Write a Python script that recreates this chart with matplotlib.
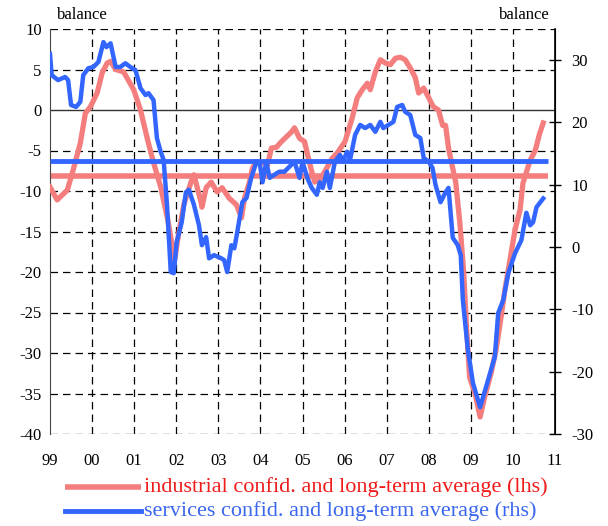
import matplotlib
matplotlib.use("Agg")
import matplotlib.pyplot as plt
from matplotlib.lines import Line2D

# industrial confidence (lhs), balance
ind_t = [1999.00, 1999.17, 1999.41, 1999.53, 1999.72, 1999.84, 1999.96, 2000.12, 2000.24, 2000.36,
         2000.44, 2000.56, 2000.75, 2000.99, 2001.15, 2001.32, 2001.46, 2001.63, 2001.80, 2001.88,
         2001.96, 2002.05, 2002.18, 2002.35, 2002.42, 2002.59, 2002.61, 2002.71, 2002.83, 2002.97,
         2003.09, 2003.26, 2003.43, 2003.55, 2003.62, 2003.74, 2003.81, 2003.90, 2004.05, 2004.17,
         2004.26, 2004.38, 2004.50, 2004.62, 2004.74, 2004.81, 2004.93, 2005.05, 2005.12, 2005.22,
         2005.29, 2005.41, 2005.53, 2005.70, 2005.84, 2006.01, 2006.18, 2006.30, 2006.42, 2006.54,
         2006.61, 2006.73, 2006.85, 2006.97, 2007.09, 2007.21, 2007.33, 2007.44, 2007.56, 2007.68,
         2007.76, 2007.88, 2008.00, 2008.11, 2008.23, 2008.33, 2008.40, 2008.47, 2008.57, 2008.64,
         2008.74, 2008.83, 2008.90, 2008.97, 2009.10, 2009.22, 2009.33, 2009.48, 2009.60, 2009.72,
         2009.81, 2009.93, 2010.05, 2010.17, 2010.24, 2010.41, 2010.53, 2010.63, 2010.72]
ind_v = [-9.5, -11.1, -9.9, -7.8, -4.1, -0.4, 0.4, 2.1, 4.6, 5.8,
         6.0, 5.0, 4.7, 2.5, 0.0, -3.7, -6.5, -9.5, -13.6, -16.0,
         -18.5, -15.5, -11.7, -8.9, -8.0, -11.4, -12.0, -9.6, -8.9, -10.1,
         -9.6, -10.9, -11.7, -13.3, -10.9, -8.9, -7.2, -6.4, -6.5, -6.8,
         -4.7, -4.6, -3.9, -3.3, -2.7, -2.2, -3.5, -3.9, -5.5, -7.6,
         -8.9, -8.6, -7.6, -6.0, -5.2, -3.9, -1.0, 1.5, 2.5, 3.3,
         2.5, 4.7, 6.2, 5.8, 5.6, 6.4, 6.5, 6.2, 5.2, 4.0,
         2.1, 2.7, 1.5, 0.4, 0.0, -1.9, -1.9, -4.7, -7.2, -8.9,
         -14.0, -20.0, -27.0, -33.0, -35.0, -37.9, -35.4, -32.5, -29.6, -25.5,
         -22.2, -18.5, -14.8, -12.3, -9.0, -6.2, -5.0, -3.0, -1.6]
ind_avg = -8.1

# services confidence (rhs), balance
srv_t = [1999.00, 1999.04, 1999.19, 1999.36, 1999.43, 1999.50, 1999.62, 1999.72, 1999.79, 1999.91,
         2000.03, 2000.15, 2000.27, 2000.34, 2000.44, 2000.56, 2000.67, 2000.79, 2000.91, 2001.03,
         2001.11, 2001.15, 2001.27, 2001.34, 2001.46, 2001.54, 2001.63, 2001.70, 2001.78, 2001.87,
         2001.94, 2002.01, 2002.13, 2002.23, 2002.30, 2002.42, 2002.54, 2002.61, 2002.71, 2002.78,
         2002.90, 2003.07, 2003.14, 2003.21, 2003.31, 2003.38, 2003.45, 2003.57, 2003.67, 2003.78,
         2003.90, 2003.98, 2004.05, 2004.14, 2004.22, 2004.33, 2004.45, 2004.57, 2004.69, 2004.81,
         2004.93, 2005.00, 2005.12, 2005.22, 2005.34, 2005.41, 2005.48, 2005.58, 2005.65, 2005.77,
         2005.89, 2005.96, 2006.06, 2006.13, 2006.25, 2006.37, 2006.49, 2006.61, 2006.73, 2006.85,
         2006.92, 2007.04, 2007.16, 2007.25, 2007.37, 2007.44, 2007.56, 2007.68, 2007.80, 2007.88,
         2008.00, 2008.09, 2008.16, 2008.28, 2008.40, 2008.47, 2008.57, 2008.69, 2008.76, 2008.81,
         2008.93, 2009.05, 2009.22, 2009.36, 2009.57, 2009.65, 2009.77, 2009.89, 2010.05, 2010.20,
         2010.32, 2010.41, 2010.48, 2010.56, 2010.72]
srv_v = [31.0, 27.6, 26.8, 27.3, 26.8, 22.8, 22.5, 23.3, 27.6, 28.7,
         28.9, 29.7, 32.9, 32.1, 32.7, 28.9, 28.9, 29.5, 28.9, 28.4,
         26.5, 25.5, 24.4, 24.7, 23.6, 17.5, 15.3, 14.0, 6.8, -4.0,
         -4.2, 0.8, 4.0, 8.8, 9.2, 6.8, 3.5, 0.3, 1.6, -1.8,
         -1.3, -1.8, -2.1, -4.0, 0.3, -0.2, 2.4, 7.2, 7.9, 11.1,
         13.5, 13.7, 10.4, 13.7, 11.1, 11.6, 12.1, 12.1, 12.9, 13.7,
         11.1, 13.7, 11.0, 9.5, 8.4, 10.4, 9.5, 12.1, 9.5, 13.7,
         14.8, 13.7, 15.3, 14.0, 18.0, 19.6, 19.1, 19.6, 18.5, 20.1,
         19.1, 19.6, 20.1, 22.5, 22.8, 21.7, 21.2, 18.0, 17.5, 14.3,
         13.7, 12.7, 10.0, 7.2, 8.8, 9.5, 1.5, 0.3, -1.3, -8.5,
         -16.5, -21.8, -25.7, -22.5, -17.6, -10.6, -8.5, -4.2, -1.0, 1.1,
         5.5, 3.5, 4.0, 6.4, 7.8]
srv_avg = 13.8

avg_span = (1999.0, 2010.84)
years = list(range(1999, 2012))
year_labels = [f"{y % 100:02d}" for y in years]

RED, BLUE = "#f47e7e", "#3366ff"
plt.rcParams.update({"font.family": "Liberation Serif", "font.size": 12,
                     "axes.unicode_minus": False})

fig = plt.figure(figsize=(6.08, 5.26), dpi=100)
ax = fig.add_axes([50 / 608, 92 / 526, 505 / 608, 405 / 526])
ax2 = ax.twinx()

ax.set_xlim(1999, 2011)
ax.set_ylim(-40, 10)
ax2.set_ylim(-30, 35)

# grid
for y in range(-40, 11, 5):
    if y == 0:
        ax.axhline(0, color="#333333", lw=1.0, zorder=1)
    else:
        ax.axhline(y, color="black", lw=0.9, ls=(0, (6, 4)), zorder=1)
for x in years[1:-1]:
    ax.axvline(x, color="black", lw=0.9, ls=(0, (6, 4)), zorder=1)

ax.plot(avg_span, [ind_avg, ind_avg], color=RED, lw=4.0, solid_capstyle="butt", zorder=2)
ax.plot(ind_t, ind_v, color=RED, lw=3.8, zorder=3)
ax2.plot(avg_span, [srv_avg, srv_avg], color=BLUE, lw=3.5, solid_capstyle="butt", zorder=2)
ax2.plot(srv_t, srv_v, color=BLUE, lw=3.2, zorder=3)

ax.set_xticks(years)
ax.set_xticklabels(year_labels)
ax.tick_params(axis="x", length=0, pad=14, labelsize=12)
ax.set_yticks(range(-40, 11, 5))
ax.tick_params(axis="y", length=0, pad=6, labelsize=12)
ax2.set_yticks(range(-30, 31, 10))
ax2.tick_params(axis="y", direction="inout", length=8, width=1, pad=8, labelsize=12)

for a in (ax, ax2):
    a.spines["top"].set_visible(False)
    a.spines["bottom"].set_visible(False)
ax.spines["left"].set_color("#444444")
ax2.spines["left"].set_visible(False)
ax2.spines["right"].set_linewidth(1.2)
ax.patch.set_visible(False)

fig.text(57 / 608, 1 - 15 / 526, "balance", ha="left", va="center", fontsize=12)
fig.text(550 / 608, 1 - 15 / 526, "balance", ha="right", va="center", fontsize=12)

# legend
fig.add_artist(Line2D([65 / 608, 141 / 608], [1 - 487 / 526] * 2, color=RED, lw=4.0,
                      transform=fig.transFigure, solid_capstyle="butt"))
fig.add_artist(Line2D([65 / 608, 141 / 608], [1 - 511 / 526] * 2, color=BLUE, lw=3.5,
                      transform=fig.transFigure))
fig.text(144 / 608, 1 - 487 / 526, "industrial confid. and long-term average (lhs)",
         color="#f01c1c", ha="left", va="center", fontsize=16)
fig.text(144 / 608, 1 - 511 / 526, "services confid. and long-term average (rhs)",
         color="#3b67ee", ha="left", va="center", fontsize=16)

fig.savefig("out.png", dpi=100)
